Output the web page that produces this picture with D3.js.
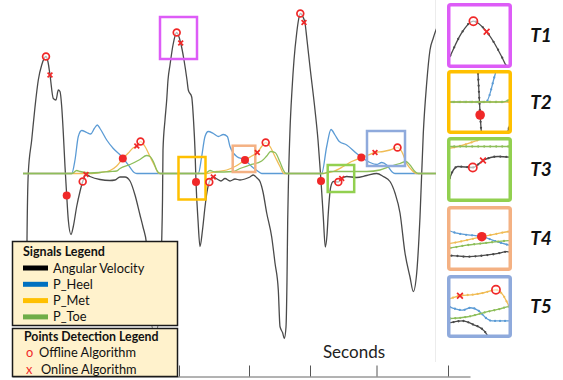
<!DOCTYPE html>
<html>
<head>
<meta charset="utf-8">
<script src="https://cdn.jsdelivr.net/npm/d3@7"></script>
<style>
  body { margin: 0; background: #fff; }
  svg { display: block; }
  text { font-family: Lato, "Open Sans", sans-serif; }
</style>
</head>
<body>
<svg id="chart" width="563" height="380"></svg>
<script>
// sampling rate of the recordings (frames per second)
const fps = 50;

// [frame, deg/s]
const angVel = [[14.5,-253],[15,-133],[16.3,1],[19.7,67],[23,133],[26.3,187],[29.7,217],[34,234],[36,223],[38,197],
  [41.3,150],[44,147],[46.3,167],[48,164],[49.7,134],[51.3,81],[53,14],[54.7,-44],[56.3,-93],[59,-122],[61.3,-106],
  [64.7,-66],[68,-36],[70.7,-16],[74,-2],[78,-6],[88,-12],[98,-14],[103,-13],[108,-7],[113,-7],[118,-15],[123,-43],
  [128,-83],[131,-107],[134.7,-143],[137,-233],[141,-313],[145,-313],[148,-233],[149.7,-135],[150.5,-53],[151,47],
  [153,107],[154.7,147],[156,187],[158,217],[161,257],[164.7,282],[168.7,261],[172,227],[175,187],[176.3,167],
  [179.7,153],[181.5,107],[183,47],[184,-17],[186,-93],[188,-146],[190.5,-113],[193,-67],[195,-37],[197.3,-17],
  [201.3,-7],[205,-11],[209,-15],[213,-10],[218,-15],[223,-11],[228,-13],[233,-11],[238,-7],[241.3,-3],[245,-9],
  [248,-16],[251,-37],[254.7,-79],[259.7,-127],[263,-179],[266.3,-233],[268,-306],[270.7,-319],[272.3,-330],
  [274,-307],[275,-213],[275.7,-93],[276.5,-13],[278,87],[280,167],[282,227],[284.7,281],[286.5,307],[288.3,320],
  [291,313],[293,301],[295,267],[298,213],[303,127],[306,67],[308,13],[309,-15],[311.3,-87],[313.3,-147],[315,-123],
  [316.3,-79],[318.7,-27],[321.3,-16],[326.3,-17],[329.7,-10],[334.7,-6],[344.7,-8],[354.7,-4],[364.7,0],[371.3,-6],
  [378,-16],[383,-39],[388,-79],[393,-159],[398,-207],[401.3,-236],[404.7,-199],[408,-87],[411.3,81],[414.7,181],
  [418,247],[421.3,271],[424,287],[428,303]];

// [frame, normalised pressure]
const pHeel = [[11,0],[59.7,0],[63,0.27],[66.3,0.74],[69.7,0.86],[74.7,0.82],[78.7,0.79],[82.3,0.9],[85.3,0.97],
  [88,0.9],[94.7,0.67],[101.3,0.5],[109.7,0.34],[116.3,0.17],[123,0.01],[125,0],[186.3,0],[189.7,0.34],[193,0.74],
  [196.3,0.84],[201.3,0.8],[206.3,0.74],[211.3,0.78],[215.3,0.74],[218,0.54],[224.7,0.34],[233,0.27],[239.7,0.14],
  [246.3,0.04],[249.7,0],[309.7,0],[314.7,0.54],[319,0.88],[323,0.77],[327.3,0.64],[334.7,0.57],[344.7,0.4],
  [351.3,0.3],[358,0.22],[364.7,0.18],[369.7,0.22],[374.7,0.17],[379.7,0.04],[383,0],[428,0]];

const pMet = [[11,0],[78,0],[88,0.02],[98,0.06],[104.7,0.15],[110.8,0.3],[116.3,0.41],[121,0.51],[124.8,0.55],
  [128.5,0.64],[133,0.54],[138,0.34],[143,0.14],[146.3,0.01],[148,0],[194.7,0],[204.7,0.04],[214.7,0.07],[223,0.14],
  [228,0.2],[233,0.27],[239.7,0.35],[245.3,0.42],[249.7,0.54],[253.7,0.62],[258,0.54],[263,0.34],[268,0.14],[272,0],
  [311.3,0],[321.3,0.04],[331.3,0.14],[339.7,0.24],[349.3,0.32],[356.3,0.37],[363,0.42],[371.3,0.44],[378,0.47],
  [385.5,0.52],[389.7,0.44],[394.7,0.2],[399.7,0.07],[404.7,0],[428,0]];

const pToe = [[11,0],[60,0],[64.7,0.06],[68,0.04],[78,0.01],[88,0.02],[98,0.04],[104.7,0.05],[108,0.1],[118,0.18],
  [128,0.28],[134.7,0.36],[138,0.34],[141.3,0.24],[144.7,0.07],[148,0],[193,0],[198,0.06],[203,0.03],[221.3,0.04],
  [228,0.1],[238,0.17],[249.7,0.25],[254.7,0.35],[258.7,0.44],[263,0.42],[268,0.23],[271.3,0.07],[274,0],[311,0],
  [318,0.04],[354.7,0.04],[368,0.07],[378,0.14],[388,0.2],[394,0.24],[398,0.17],[403,0.04],[406.3,0],[428,0]];

// detected events: [signal, frame, value]
const offlinePts = [["gyro",34,234],["gyro",70.7,-16],["gyro",164.7,282],["gyro",197.3,-17],["gyro",288.3,320],
  ["gyro",326.3,-17],["met",128.5,0.64],["met",253.7,0.62],["met",385.5,0.52]];
const onlinePts = [["gyro",38,197],["gyro",74,-2],["gyro",168.7,261],["gyro",201.3,-7],["gyro",292,302],
  ["gyro",329.7,-10],["met",124.8,0.55],["met",245.3,0.42],["met",363,0.42]];
const bothPts = [["gyro",54.7,-44],["gyro",184,-17],["gyro",309,-15],["met",110.8,0.3],["met",233,0.27],
  ["met",349.3,0.32]];

const tickSeconds = [3.34, 4.74, 5.96, 7.29, 8.72];

const signalNames = ["Angular Velocity", "P_Heel", "P_Met", "P_Toe"];
const swatchColors = ["#000000", "#0070C0", "#FFC000", "#70AD47"];
const zoomNames = ["T1", "T2", "T3", "T4", "T5"];

const colors = { gyro: "#4a4a4a", heel: "#5B9BD5", met: "#F0BC55", toe: "#8DBE5A", mark: "#F02828" };

const svg = d3.select("#chart");

const x = d3.scaleLinear().domain([0, 9.16]).range([12, 470]);
const yGyro = d3.scaleLinear().domain([-400, 400]).range([373.5, -26.5]);
const yPress = d3.scaleLinear().domain([0, 1]).range([173.5, 123.5]);
const yOf = s => s === "gyro" ? yGyro : yPress;

const series = [
  { data: angVel, y: yGyro, color: colors.gyro, w: 1.3 },
  { data: pHeel, y: yPress, color: colors.heel, w: 1.3 },
  { data: pMet, y: yPress, color: colors.met, w: 1.3 },
  { data: pToe, y: yPress, color: colors.toe, w: 1.3 }
];

const defs = svg.append("defs");
defs.append("clipPath").attr("id", "mainClip")
  .append("rect").attr("x", 12).attr("y", 0).attr("width", 424).attr("height", 380);

function drawSignals(g, sx, sy, dotted) {
  series.forEach(s => {
    const line = d3.line()
      .x(d => sx(x(d[0] / fps)))
      .y(d => sy(s.y(d[1])))
      .curve(d3.curveMonotoneX);
    g.append("path").attr("d", line(s.data))
      .attr("fill", "none").attr("stroke", s.color).attr("stroke-width", s.w);
    if (dotted) {
      g.append("path").attr("d", line(s.data))
        .attr("fill", "none").attr("stroke", s.color).attr("stroke-width", 2.3)
        .attr("stroke-linecap", "round").attr("stroke-dasharray", "0 " + dotted);
    }
  });
}

function drawMarks(g, sx, sy, k) {
  const px = d => sx(x(d[1] / fps)), py = d => sy(yOf(d[0])(d[2]));
  g.selectAll(null).data(bothPts).join("circle")
    .attr("cx", px).attr("cy", py).attr("r", 4 * k)
    .attr("fill", colors.mark);
  g.selectAll(null).data(offlinePts).join("circle")
    .attr("cx", px).attr("cy", py).attr("r", 3.4 * k)
    .attr("fill", "#fff").attr("fill-opacity", 0.6)
    .attr("stroke", colors.mark).attr("stroke-width", 1.7);
  const c = 2.4 * k;
  g.selectAll(null).data(onlinePts).join("path")
    .attr("d", d => `M${px(d) - c},${py(d) - c}L${px(d) + c},${py(d) + c}M${px(d) - c},${py(d) + c}L${px(d) + c},${py(d) - c}`)
    .attr("stroke", colors.mark).attr("stroke-width", 1.7);
}

const ident = d3.scaleIdentity();

// main view
const main = svg.append("g").attr("clip-path", "url(#mainClip)");
main.append("line").attr("x1", 436).attr("x2", 436).attr("y1", 0).attr("y2", 362)
  .attr("stroke", "#e6e6e6").attr("stroke-width", 1.5);
drawSignals(main, ident, ident, 0);

// highlighted windows in the main view
const boxes = [
  { x: 160, y: 17, w: 37, h: 42, c: "#DD5CF7" },
  { x: 178.5, y: 157, w: 27, h: 42.5, c: "#FFC000" },
  { x: 327.7, y: 165, w: 26.5, h: 27, c: "#92D050" },
  { x: 232.7, y: 145.7, w: 22.6, h: 26.3, c: "#F4B183" },
  { x: 367, y: 131, w: 38, h: 35, c: "#8FAADC" }
];
main.selectAll(null).data(boxes).join("rect")
  .attr("x", d => d.x).attr("y", d => d.y).attr("width", d => d.w).attr("height", d => d.h)
  .attr("fill", "none").attr("stroke", d => d.c).attr("stroke-width", 2.5);

drawMarks(main, ident, ident, 1);

// zoomed insets
const insets = [
  { top: 3, h: 65, wx: 168.7, wy: 14.3, sx: 3.3, sy: 1.0, dot: 9 },
  { top: 70, h: 64, wx: 183, wy: 152.6, sx: 2.55, sy: 1.53, dot: 6 },
  { top: 137, h: 65, wx: 329.7, wy: 166.75, sx: 3, sy: 2, dot: 6 },
  { top: 206, h: 65, wx: 233.4, wy: 129.3, sx: 3, sy: 1, dot: 6 },
  { top: 275, h: 63, wx: 366.9, wy: 135.2, sx: 1.6, sy: 1.2, dot: 5 }
];
insets.forEach((ins, i) => {
  const id = "inset" + i;
  defs.append("clipPath").attr("id", id)
    .append("rect").attr("x", 449).attr("y", ins.top + 2).attr("width", 61).attr("height", ins.h - 4);
  const sx = d3.scaleLinear().domain([ins.wx, ins.wx + 65 / ins.sx]).range([447, 512]);
  const sy = d3.scaleLinear().domain([ins.wy, ins.wy + ins.h / ins.sy]).range([ins.top, ins.top + ins.h]);
  const g = svg.append("g").attr("clip-path", `url(#${id})`);
  g.append("rect").attr("x", 447).attr("y", ins.top).attr("width", 65).attr("height", ins.h).attr("fill", "#fff");
  drawSignals(g, sx, sy, ins.dot);
  drawMarks(g, sx, sy, 1.2);
  svg.append("rect").attr("x", 448.75).attr("y", ins.top + 1.75).attr("width", 61.5).attr("height", ins.h - 3.5)
    .attr("rx", 2).attr("fill", "none").attr("stroke", boxes[i].c).attr("stroke-width", 3.5);
  svg.append("text").attr("x", 541).attr("y", ins.top + ins.h / 2 + 6.5)
    .attr("text-anchor", "middle").attr("font-size", 19).attr("font-weight", "bold")
    .attr("font-style", "italic").attr("fill", "#111").text(zoomNames[i]);
});

// time axis
const axis = svg.append("g").attr("transform", "translate(0,376.5)")
  .call(d3.axisTop(x).tickValues(tickSeconds).tickSize(11).tickSizeOuter(0).tickFormat(""));
axis.select(".domain").attr("stroke", "#666");
axis.selectAll(".tick line").attr("stroke", "#555");
svg.append("text").attr("x", 354).attr("y", 358).attr("text-anchor", "middle")
  .attr("font-size", 17).attr("fill", "#222").text("Seconds");

// legends
const leg = svg.append("g");
leg.append("rect").attr("x", 12.5).attr("y", 241.5).attr("width", 165).attr("height", 84)
  .attr("fill", "#FFF2CC").attr("stroke", "#1a1a1a").attr("stroke-width", 1.5);
leg.append("text").attr("x", 23).attr("y", 255.5).attr("font-size", 12.5).attr("font-weight", "bold")
  .attr("fill", "#111").text("Signals Legend");
signalNames.forEach((n, i) => {
  const yy = 268 + i * 16.3;
  leg.append("line").attr("x1", 23).attr("x2", 48).attr("y1", yy).attr("y2", yy)
    .attr("stroke", swatchColors[i]).attr("stroke-width", 5);
  leg.append("text").attr("x", 53).attr("y", yy + 4.5).attr("font-size", 12.8).attr("fill", "#111").text(n);
});
leg.append("rect").attr("x", 12.5).attr("y", 328.5).attr("width", 165).attr("height", 48)
  .attr("fill", "#FFF2CC").attr("stroke", "#1a1a1a").attr("stroke-width", 1.5);
leg.append("text").attr("x", 24).attr("y", 340.5).attr("font-size", 12.3).attr("font-weight", "bold")
  .attr("fill", "#111").text("Points Detection Legend");
[["o", "Offline Algorithm"], ["x", "Online Algorithm"]].forEach((p, i) => {
  const yy = 357 + i * 16.5;
  leg.append("text").attr("x", 26).attr("y", yy).attr("font-size", 12.8).attr("fill", colors.mark).text(p[0]);
  leg.append("text").attr("x", 39 + i * 2).attr("y", yy).attr("font-size", 12.8).attr("fill", "#111").text(p[1]);
});
</script>
</body>
</html>
